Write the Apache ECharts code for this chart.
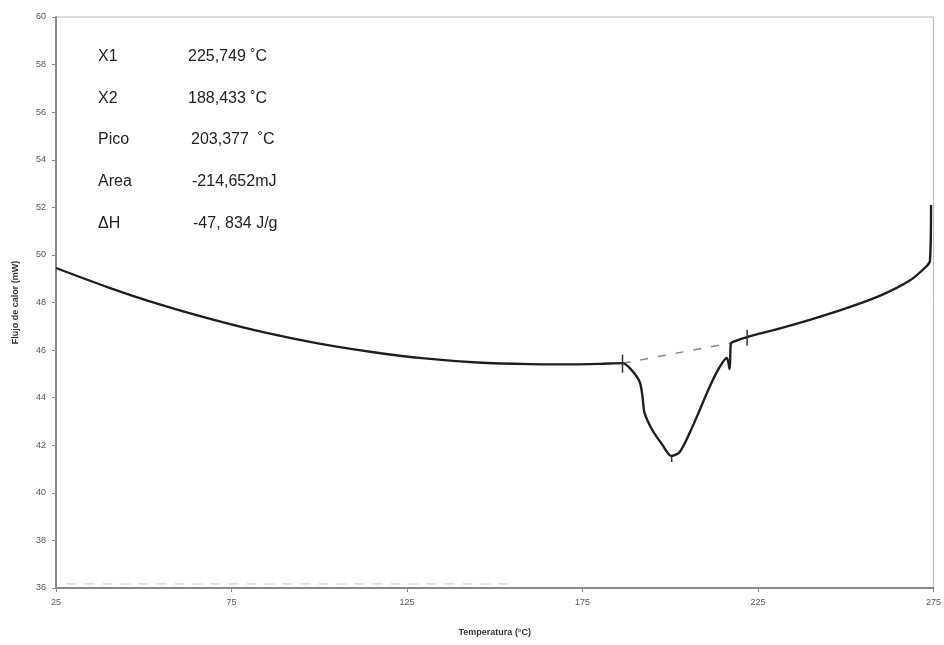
<!DOCTYPE html>
<html><head><meta charset="utf-8">
<script src="https://cdn.jsdelivr.net/npm/echarts@6/dist/echarts.min.js"></script>
<style>html,body{margin:0;padding:0;background:#fff}#c{width:944px;height:645px}</style>
</head><body><div id="c"></div>
<script>
// Temperatures (°C) and heat flow (mW) of the DSC curve
const temps = [25, 40, 55, 70, 85, 100, 115, 130, 145, 160, 172, 180, 186.4,
  189.0, 191.3, 192.1, 192.7, 194.9, 197.8, 200.4, 202.7, 205.5, 208.4, 211.2, 214.1, 216.1, 216.9, 217.2, 217.5,
  222, 230, 240, 250, 260, 268, 272.5, 274, 274.3];
const flow = [49.45, 48.63, 47.9, 47.27, 46.72, 46.27, 45.92, 45.65, 45.48, 45.41, 45.4, 45.42, 45.45,
  45.16, 44.66, 44.03, 43.35, 42.64, 42.01, 41.55, 41.72, 42.51, 43.48, 44.45, 45.29, 45.67, 45.2, 46.2, 46.32,
  46.55, 46.86, 47.28, 47.75, 48.3, 48.9, 49.45, 49.75, 52.1];
// Interpolated baseline between X2 and X1 (dashed)
const baseT = [186.4, 217.5];
const baseV = [45.45, 46.3];
// Faint dashed line near the bottom
const faintT = [28, 155];
const faintV = [36.17, 36.17];
// Small vertical marker ticks
const markT = [186.4, 221.9, 200.4];
const markLo = [45.05, 46.18, 41.3];
const markHi = [45.8, 46.85, 41.55];
// Axis ticks
const xMin = 25, xMax = 275, xStep = 50;
const yMin = 36, yMax = 60, yStep = 2;
// Annotation table
const labels = ['X1', 'X2', 'Pico', 'Area', 'ΔH'];
const values = ['225,749 ˚C', '188,433 ˚C', '203,377  ˚C', '-214,652mJ', '-47, 834 J/g'];

const off = v => v - xMin;
const pairs = (a, b) => a.map((t, i) => [off(t), b[i]]);

const series = [
  { type: 'line', data: pairs(temps, flow), showSymbol: false, smooth: 0.3,
    lineStyle: { color: '#1e1e1e', width: 2.4 }, z: 5 },
  { type: 'line', data: pairs(baseT, baseV), showSymbol: false,
    lineStyle: { color: '#8a8a8a', width: 1.5, type: [8, 10] }, z: 3 },
  { type: 'line', data: pairs(faintT, faintV), showSymbol: false,
    lineStyle: { color: '#c8c8c8', width: 1, type: [10, 8] }, z: 2 }
];
markT.forEach((t, i) => series.push({ type: 'line', data: [[off(t), markLo[i]], [off(t), markHi[i]]],
  showSymbol: false, lineStyle: { color: '#333', width: 1.5 }, z: 6 }));

const rowY = [58, 100, 141, 183, 225];
const valX = [188, 188, 191, 192, 193];
const graphic = [];
labels.forEach((l, i) => {
  graphic.push({ type: 'text', left: 98, top: rowY[i] - 9, style: { text: l, font: '16px "Liberation Sans", Arial', fill: '#222' } });
  graphic.push({ type: 'text', left: valX[i], top: rowY[i] - 9, style: { text: values[i], font: '16px "Liberation Sans", Arial', fill: '#222' } });
});

const chart = echarts.init(document.getElementById('c'), null, { renderer: 'canvas' });
chart.setOption({
  animation: false,
  backgroundColor: '#fff',
  grid: { left: 56, right: 10, top: 17, bottom: 57, show: true, borderColor: '#bbb', borderWidth: 1 },
  xAxis: {
    type: 'value', min: 0, max: xMax - xMin, interval: xStep,
    name: 'Temperatura (°C)', nameLocation: 'middle', nameGap: 40,
    nameTextStyle: { fontSize: 9, fontWeight: 'bold', color: '#333', fontFamily: 'Liberation Sans Narrow, Liberation Sans' },
    axisLine: { lineStyle: { color: '#888', width: 2 } },
    axisTick: { show: true, length: 4, lineStyle: { color: '#888' } },
    axisLabel: { formatter: v => String(v + xMin), fontSize: 9, color: '#555', margin: 10, fontFamily: 'Liberation Sans Narrow, Liberation Sans' },
    splitLine: { show: false }
  },
  yAxis: {
    type: 'value', min: yMin, max: yMax, interval: yStep,
    name: 'Flujo de calor (mW)', nameLocation: 'middle', nameGap: 36,
    nameTextStyle: { fontSize: 9, fontWeight: 'bold', color: '#333', fontFamily: 'Liberation Sans Narrow, Liberation Sans' },
    axisLine: { show: true, lineStyle: { color: '#888', width: 2 } },
    axisTick: { show: true, length: 4, lineStyle: { color: '#888' } },
    axisLabel: { fontSize: 9, color: '#555', margin: 10, fontFamily: 'Liberation Sans Narrow, Liberation Sans' },
    splitLine: { show: false }
  },
  series: series,
  graphic: graphic
});
</script></body></html>
